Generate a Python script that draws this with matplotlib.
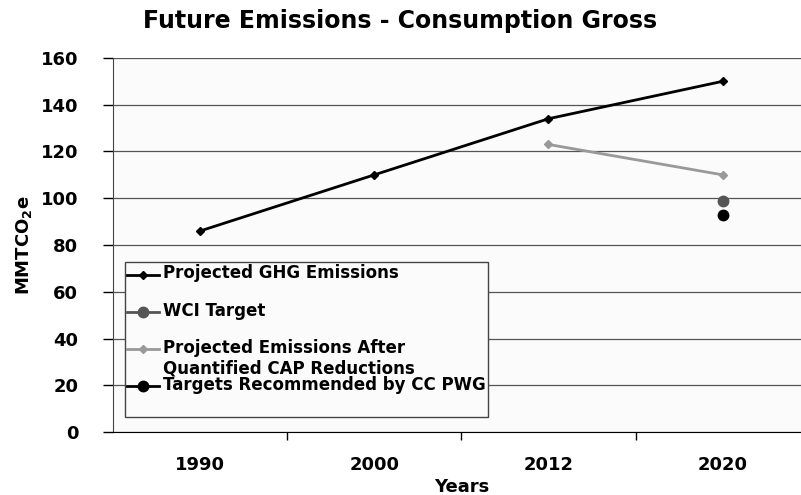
import matplotlib.pyplot as plt
from matplotlib.legend_handler import HandlerLine2D

years = ["1990", "2000", "2012", "2020"]
ghg = [86, 110, 134, 150]
after_cap = [None, None, 123, 110]
wci_target = [None, None, None, 99]
cc_pwg = [None, None, None, 93]

LEG_FONT = 12


class FirstLineHandler(HandlerLine2D):
    # put the legend key next to the first text line instead of the middle
    def create_artists(self, legend, orig_handle, xdescent, ydescent, width, height, fontsize, trans):
        arts = super().create_artists(legend, orig_handle, xdescent, ydescent, width, height, fontsize, trans)
        for a in arts:
            a.set_ydata([y + 0.6 * fontsize for y in a.get_ydata()])
        return arts


fig = plt.figure(figsize=(8.01, 4.95), dpi=100)
ax = fig.add_axes([0.141, 0.127, 0.870, 0.756])
ax.set_facecolor('#fbfbfb')

x = range(len(years))

# trailing blank line keeps every legend slot two lines tall, like the original
l1, = ax.plot(x, ghg, color='black', lw=2, marker='D', ms=4, label='Projected GHG Emissions\n')
l2, = ax.plot(x, wci_target, color='#555555', lw=2, marker='o', ms=7.5, label='WCI Target\n')
l3, = ax.plot(x, after_cap, color='#999999', lw=2, marker='D', ms=4,
              label='Projected Emissions After\nQuantified CAP Reductions')
l4, = ax.plot(x, cc_pwg, color='black', lw=2, marker='o', ms=7.5, label='Targets Recommended by CC PWG\n')

ax.set_xlim(-0.5, 3.5)
ax.set_ylim(0, 160)
ax.set_yticks(range(0, 161, 20))
ax.set_xticks(list(x))
ax.set_xticklabels(years, fontsize=13, fontweight='bold')
ax.set_xticks([0.5, 1.5, 2.5], minor=True)
ax.tick_params(axis='x', which='major', length=0, pad=17)
ax.tick_params(axis='x', which='minor', length=6, direction='out', width=1)
ax.tick_params(axis='y', length=7, direction='out', width=1, labelsize=13, pad=18)
for lab in ax.get_yticklabels():
    lab.set_fontweight('bold')

ax.grid(axis='y', color='#555555', lw=0.9)
ax.set_axisbelow(True)
for s in ['top', 'right']:
    ax.spines[s].set_visible(False)
ax.spines['left'].set_color('#444444')
ax.spines['bottom'].set_color('black')

ax.set_xlabel('Years', fontsize=13, fontweight='bold', labelpad=3)
ax.set_ylabel('MMTCO$_\\mathbf{2}$e', fontsize=13, fontweight='bold', labelpad=5)
fig.text(0.5, 0.958, 'Future Emissions - Consumption Gross', ha='center', va='center',
         fontsize=17, fontweight='bold')

hm = {h: FirstLineHandler() for h in (l1, l2, l3, l4)}
leg = ax.legend(handler_map=hm, loc='lower left', bbox_to_anchor=(0.017, 0.04), fancybox=False,
                edgecolor='#444444', framealpha=1, facecolor='#fbfbfb',
                prop={'size': LEG_FONT, 'weight': 'bold'}, handlelength=1.9,
                handletextpad=0.25, labelspacing=-0.1, borderpad=0.15,
                borderaxespad=0)
leg.get_frame().set_linewidth(1)

fig.savefig('out.png', dpi=100)
